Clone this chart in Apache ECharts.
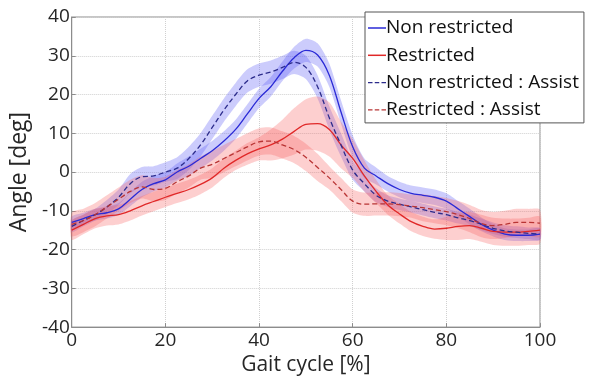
<!DOCTYPE html>
<html>
<head>
<meta charset="utf-8">
<script src="https://cdn.jsdelivr.net/npm/echarts@6/dist/echarts.min.js"></script>
<style>
  html, body { margin: 0; padding: 0; background: #fff; }
  #main { width: 593px; height: 381px; }
</style>
</head>
<body>
<div id="main"></div>
<script>
// gait cycle [%], one sample every 2.5 %
var gait = [0, 2.5, 5, 7.5, 10, 12.5, 15, 17.5, 20, 22.5, 25, 27.5, 30, 32.5, 35, 37.5, 40,
  42.5, 45, 47.5, 50, 52.5, 55, 57.5, 60, 62.5, 65, 67.5, 70, 72.5, 75, 77.5, 80,
  82.5, 85, 87.5, 90, 92.5, 95, 97.5, 100];

// mean angle [deg]
var nonRestricted = [-13, -12, -11, -10.5, -9.5, -7, -4.5, -3, -2, 0, 1.5, 3.5, 5.5, 8, 11, 15, 19,
  22, 26, 29.5, 31.4, 30.2, 25, 15.5, 6.5, 1, -1, -3, -4.5, -5.5, -6, -6.5, -7.5,
  -9.5, -11.5, -13.5, -15, -16, -16.3, -16.3, -16];
var restricted = [-15, -13.5, -12, -11.3, -11, -10, -8.7, -7.6, -6.5, -5.5, -4.5, -3.2, -1.5, 1, 3, 4.7, 6,
  7, 8.5, 10.5, 12.3, 12.5, 11, 7, 3.5, -1, -5, -8.5, -10.8, -12.8, -14, -14.7, -14.5,
  -14, -13.8, -14.5, -15.3, -15.5, -15.5, -15.3, -15];
var nonRestrictedAssist = [-14, -12.5, -11, -9, -6.5, -3, -1.2, -1, 0, 1, 3.5, 7, 11.5, 16, 20, 23.5, 25,
  25.8, 27, 28.3, 27, 22, 14, 7, 0.5, -3, -6, -7.5, -8.3, -9, -9.7, -10.4, -11,
  -11.8, -12.5, -13.5, -14.5, -15.2, -15.5, -15.8, -16];
var restrictedAssist = [-13.5, -12.5, -11, -9, -7, -5, -3.8, -4.5, -4.2, -2.5, -1, 1, 2, 3.5, 5, 6.5, 7.8,
  8, 7, 5.8, 3.8, 1.2, -1.5, -4.5, -7.5, -8.3, -8.2, -8.2, -8.4, -8.8, -9.2, -9.7, -10.2,
  -11, -12, -13.3, -13.8, -13.5, -13, -13, -13.2];

// standard deviation [deg]
var sdNonRestricted = [1.5, 1.5, 1.5, 1.5, 1.5, 1.8, 2, 2, 2, 2.2, 2.5, 2.5, 2.5, 2.5, 2.5, 2.5, 2.5,
  2.5, 2.5, 2.8, 3, 3, 3, 3, 3, 2.5, 2.2, 2, 2, 2, 2, 2, 2,
  2, 2, 1.8, 1.6, 1.5, 1.5, 1.5, 1.5];
var sdRestricted = [2.5, 2.5, 2.5, 2.5, 2.5, 2.5, 2.5, 2.5, 2.5, 2.5, 2.5, 2.5, 2.5, 2.5, 2.5, 2.8, 3,
  4, 5, 6, 6.5, 7, 7, 6, 5, 4, 3, 2.5, 2.5, 2.5, 2.5, 2.5, 3,
  3.5, 3.5, 3.5, 3.5, 3.5, 3.5, 3.5, 3.5];
var sdNonRestrictedAssist = [1.5, 1.5, 1.5, 1.8, 2, 2.5, 2.5, 2.5, 2.5, 2.8, 3, 3, 3, 3, 3, 3, 3,
  3, 3, 3, 3, 3, 3, 3, 2.5, 2, 1.8, 1.5, 1.5, 1.5, 1.5, 1.5, 1.5,
  1.5, 1.5, 1.5, 1.5, 1.5, 1.5, 1.5, 1.5];
var sdRestrictedAssist = [3, 3, 3, 3, 3, 3, 3, 3, 3, 3, 3, 3, 3.5, 3.5, 3.5, 3.5, 3.5,
  3.5, 3.5, 3.5, 3.5, 3.5, 3, 3, 3, 3, 3, 3, 3, 3, 3.5, 3.5, 3.5,
  3.5, 3.5, 3.5, 3.5, 3.5, 3.5, 3.5, 3.5];

var xTicks = [0, 20, 40, 60, 80, 100];
var yTicks = [-40, -30, -20, -10, 0, 10, 20, 30, 40];

var chart = echarts.init(document.getElementById('main'), null, { renderer: 'canvas' });

function pairs(ys) {
  return gait.map(function (x, i) { return [x, ys[i]]; });
}

// 平均±SD の帯 (custom polygon)
function band(mean, sd, color) {
  return {
    type: 'custom', silent: true, z: 1,
    data: gait.map(function (x, i) { return [x, mean[i] - sd[i], mean[i] + sd[i]]; }),
    encode: { x: 0, y: [1, 2] },
    renderItem: function (params, api) {
      if (params.dataIndex !== 0) return;
      var upper = [], lower = [];
      for (var i = 0; i < gait.length; i++) {
        upper.push(api.coord([gait[i], mean[i] + sd[i]]));
        lower.unshift(api.coord([gait[i], mean[i] - sd[i]]));
      }
      return {
        type: 'polygon',
        shape: { points: upper.concat(lower), smooth: 0.25 },
        style: { fill: color }
      };
    }
  };
}

function meanLine(name, ys, color, dashed) {
  return {
    name: name, type: 'line', data: pairs(ys), smooth: 0.35, symbol: 'none', z: 5,
    itemStyle: { color: color },
    lineStyle: { color: color, width: 1.3, type: dashed ? [5, 3] : 'solid' }
  };
}

var blueBand = 'rgba(95, 95, 245, 0.32)';
var redBand = 'rgba(248, 95, 95, 0.3)';

var dashIcon = 'path://M0,0h4v1h-4zM6,0h4v1h-4zM12,0h4v1h-4z';

var series = [
  band(nonRestricted, sdNonRestricted, blueBand),
  band(nonRestrictedAssist, sdNonRestrictedAssist, blueBand),
  band(restricted, sdRestricted, redBand),
  band(restrictedAssist, sdRestrictedAssist, redBand),
  meanLine('Non restricted', nonRestricted, '#2a2ad6', false),
  meanLine('Restricted', restricted, '#e02828', false),
  meanLine('Non restricted : Assist', nonRestrictedAssist, '#2c2c8c', true),
  meanLine('Restricted : Assist', restrictedAssist, '#b83434', true)
];

var tickFont = { color: '#262626', fontSize: 19, fontFamily: 'Open Sans' };

var option = {
  animation: false,
  backgroundColor: '#fff',
  grid: {
    left: 69, right: 53, top: 17, bottom: 49,
    show: true, borderColor: '#8c8c8c', borderWidth: 1
  },
  legend: {
    data: [
      { name: 'Non restricted', icon: 'rect' },
      { name: 'Restricted', icon: 'rect' },
      { name: 'Non restricted : Assist', icon: dashIcon },
      { name: 'Restricted : Assist', icon: dashIcon }
    ],
    orient: 'vertical',
    left: 365, top: 12,
    padding: [6, 5, 3, 3],
    itemGap: 7.3,
    itemWidth: 18, itemHeight: 1.5,
    backgroundColor: '#fff',
    borderColor: '#555', borderWidth: 1,
    textStyle: {
      color: '#111', fontSize: 19, lineHeight: 20, fontFamily: 'Open Sans',
      padding: [0, 0, 0, -5]
    }
  },
  xAxis: {
    type: 'value', min: 0, max: 100, interval: 20,
    name: 'Gait cycle [%]', nameLocation: 'middle', nameGap: 27,
    nameTextStyle: { color: '#262626', fontSize: 21, fontFamily: 'Open Sans' },
    axisLine: { show: true, onZero: false, lineStyle: { color: '#8c8c8c' } },
    axisTick: { show: true, inside: true, length: 4, lineStyle: { color: '#8c8c8c' } },
    axisLabel: Object.assign({ margin: 4 }, tickFont, {
      formatter: function (v) { return xTicks.indexOf(v) >= 0 ? String(v) : ''; }
    }),
    splitLine: { show: true, lineStyle: { color: '#d0d0d0', type: 'dotted' } }
  },
  yAxis: {
    type: 'value', min: -40, max: 40, interval: 10,
    name: 'Angle [deg]', nameLocation: 'middle', nameGap: 32,
    nameTextStyle: { color: '#262626', fontSize: 23, fontFamily: 'Open Sans' },
    axisLine: { show: true, onZero: false, lineStyle: { color: '#8c8c8c' } },
    axisTick: { show: true, inside: true, length: 4, lineStyle: { color: '#8c8c8c' } },
    axisLabel: Object.assign({ margin: 2 }, tickFont, {
      formatter: function (v) { return yTicks.indexOf(v) >= 0 ? String(v) : ''; }
    }),
    splitLine: { show: true, lineStyle: { color: '#d0d0d0', type: 'dotted' } }
  },
  series: series
};

chart.setOption(option);
</script>
</body>
</html>
